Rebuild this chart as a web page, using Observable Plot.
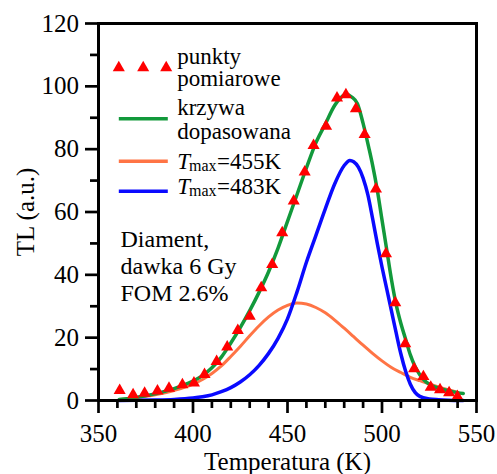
<!DOCTYPE html>
<html><head><meta charset="utf-8">
<script src="https://cdn.jsdelivr.net/npm/d3@7"></script>
<script src="https://cdn.jsdelivr.net/npm/@observablehq/plot@0.6"></script>
<style>html,body{margin:0;padding:0;background:#fff}</style>
</head><body><div id="chart"></div>
<script>
// ---- data ----
const measT  = [361.2,368.3,374.4,381.2,387.3,394.4,400.5,406.1,412.5,418.1,423.7,430.0,436.1,441.9,447.2,453.3,459.1,463.8,470.4,476.2,480.9,486.2,490.8,496.8,502.1,507.0,512.3,517.0,521.9,525.8,530.7,535.5,539.9];
const measTL = [3.2,1.8,2.3,3.0,3.9,5.0,5.6,8.3,12.4,17.0,22.3,26.8,35.9,43.3,53.4,63.5,72.7,81.2,87.3,96.3,97.3,92.9,84.7,67.3,46.7,31.1,18.1,10.1,7.6,4.2,3.4,2.5,1.3];

const fitT  = [361,365,370,375,380,385,390,395,400,405,410,415,420,425,430,435,440,445,450,455,460,465,470,475,478,481,484,487,490,493,495,497.5,500,502.5,505,507.5,510,512.5,515,517.5,520,522.5,525,530,535,540,543];
const fitTL = [0.3,0.6,1.0,1.5,2.1,2.9,3.8,4.9,6.2,7.9,10.4,13.8,18.3,23.2,28.6,34.5,41,48.5,57,65.5,74,82,88,94,96.3,97.5,96.6,94.5,88.2,80.5,75,67,57.5,48,38.5,30.5,24.5,19.5,14.5,10.8,8.2,6.4,5.2,3.9,3.1,2.5,2.2];

const p455T  = [361,370,380,390,400,405,410,415,420,425,430,435,440,445,450,455,460,465,470,475,480,485,490,495,500,505,510,515,520,525,530,535,540];
const p455TL = [0.3,0.9,1.8,3.2,5.2,6.7,8.6,11,14,17.2,20.6,23.8,26.6,28.8,30.3,31,30.7,29.6,27.9,25.6,23,20.3,17.6,15,12.6,10.5,8.9,7.4,6.3,5.3,4.3,3.4,2.6];

const p483T  = [361,370,380,390,400,405,410,415,420,425,430,435,440,445,450,455,460,465,470,475,480,483,485,487.5,490,492.5,495,497.5,500,502.5,505,507.5,510,512.5,515,517.5,520,525,530,535,543];
const p483TL = [0.0,0.05,0.15,0.35,0.8,1.2,1.8,2.8,4.1,5.9,8.2,11.2,15,19.8,26,34.5,44,52.5,61,69,74.8,76.4,76,74.3,70.8,65.5,58,50,42.5,35.5,28.5,21.5,14.8,9.3,5.2,2.6,1.3,0.5,0.25,0.1,0.0];

const xTicks = [350,400,450,500,550];
const xMinor = [360,370,380,390,410,420,430,440,460,470,480,490,510,520,530,540];
const yTicks = [0,20,40,60,80,100,120];
const yMinor = [10,30,50,70,90,110];

const legendMeas = ["punkty","pomiarowe"];
const legendFit  = ["krzywa","dopasowana"];
const legendP1   = ["=455K"];
const legendP2   = ["=483K"];
const noteLines  = ["Diament,","dawka 6 Gy","FOM 2.6%"];
const xTitle = "Temperatura (K)";
const yTitle = "TL (a.u.)";

const RED = "#ff0000", GREEN = "#12993b", ORANGE = "#ff7445", BLUE = "#0a0aff";

const rows = (T, V) => T.map((t, i) => ({t, v: V[i]}));
const hline = w => ({draw(ctx){ ctx.moveTo(-w/2, 0); ctx.lineTo(w/2, 0); }});
const txt = d => d;

const serif = "'Liberation Serif', 'Times New Roman', serif";
const T = (s, o) => Plot.text([s], {text: txt, frameAnchor: "top-left", textAnchor: "start", lineAnchor: "bottom", fontFamily: serif, fill: "black", ...o});

const chart = Plot.plot({
  width: 497, height: 474,
  marginLeft: 98, marginRight: 21, marginTop: 23, marginBottom: 74,
  style: {fontFamily: serif, fontSize: "25px", color: "black", background: "white"},
  x: {domain: [350, 550], axis: null},
  y: {domain: [0, 120], axis: null},
  marks: [
    Plot.line(rows(p455T, p455TL), {x: "t", y: "v", stroke: ORANGE, strokeWidth: 3, curve: "monotone-x"}),
    Plot.line(rows(p483T, p483TL), {x: "t", y: "v", stroke: BLUE, strokeWidth: 3.5, curve: "monotone-x"}),
    Plot.line(rows(fitT, fitTL), {x: "t", y: "v", stroke: GREEN, strokeWidth: 3.5, curve: "monotone-x"}),
    Plot.dot(rows(measT, measTL), {x: "t", y: "v", symbol: "triangle", r: 4.5, fill: RED, stroke: "none"}),

    Plot.frame({stroke: "black", strokeWidth: 3}),
    Plot.axisX(xTicks, {anchor: "bottom", tickSize: 13, tickPadding: 11, strokeWidth: 2.7, fontSize: 25, fontFamily: serif, label: null}),
    Plot.axisX(xMinor, {anchor: "bottom", tickSize: 8, strokeWidth: 2.7, tickFormat: () => "", label: null}),
    Plot.axisY(yTicks, {anchor: "left", tickSize: 13, tickPadding: 6.5, strokeWidth: 2.7, fontSize: 25, fontFamily: serif, label: null}),
    Plot.axisY(yMinor, {anchor: "left", tickSize: 8, strokeWidth: 2.7, tickFormat: () => "", label: null}),

    Plot.text([xTitle], {text: txt, frameAnchor: "bottom", dy: 69.5, lineAnchor: "bottom", fontSize: 25, fontFamily: serif, fill: "black"}),
    Plot.text([yTitle], {text: txt, frameAnchor: "left", dx: -65, rotate: -90, textAnchor: "middle", lineAnchor: "bottom", fontSize: 25, fontFamily: serif, fill: "black"}),

    // legend
    Plot.dot([0], {frameAnchor: "top-left", dx: 20.3, dy: 44.3, symbol: "triangle", r: 4.5, fill: RED}),
    Plot.dot([0], {frameAnchor: "top-left", dx: 44.7, dy: 44.3, symbol: "triangle", r: 4.5, fill: RED}),
    Plot.dot([0], {frameAnchor: "top-left", dx: 67.7, dy: 44.3, symbol: "triangle", r: 4.5, fill: RED}),
    Plot.dot([0], {frameAnchor: "top-left", dx: 44.8, dy: 95.3, symbol: hline(49), fill: "none", stroke: GREEN, strokeWidth: 3.5}),
    Plot.dot([0], {frameAnchor: "top-left", dx: 44.8, dy: 137.7, symbol: hline(49), fill: "none", stroke: ORANGE, strokeWidth: 3.5}),
    Plot.dot([0], {frameAnchor: "top-left", dx: 44.8, dy: 167.7, symbol: hline(49), fill: "none", stroke: BLUE, strokeWidth: 3.5}),

    T(legendMeas[0], {dx: 78.7, dy: 40, fontSize: 23}),
    T(legendMeas[1], {dx: 78.7, dy: 62.5, fontSize: 23}),
    T(legendFit[0], {dx: 78.7, dy: 91, fontSize: 23}),
    T(legendFit[1], {dx: 78.7, dy: 115, fontSize: 23}),

    T("T", {dx: 78.7, dy: 145, fontSize: 23, fontStyle: "italic"}),
    T("max", {dx: 90.5, dy: 147, fontSize: 16}),
    T(legendP1[0], {dx: 118.5, dy: 145, fontSize: 23}),
    T("T", {dx: 78.7, dy: 170.5, fontSize: 23, fontStyle: "italic"}),
    T("max", {dx: 90.5, dy: 172.5, fontSize: 16}),
    T(legendP2[0], {dx: 118.5, dy: 170.5, fontSize: 23}),

    // annotation
    T(noteLines[0], {dx: 22, dy: 223.7, fontSize: 24}),
    T(noteLines[1], {dx: 22, dy: 250.3, fontSize: 24}),
    T(noteLines[2], {dx: 22, dy: 277, fontSize: 24})
  ]
});
document.getElementById("chart").appendChild(chart);
</script>
</body></html>
